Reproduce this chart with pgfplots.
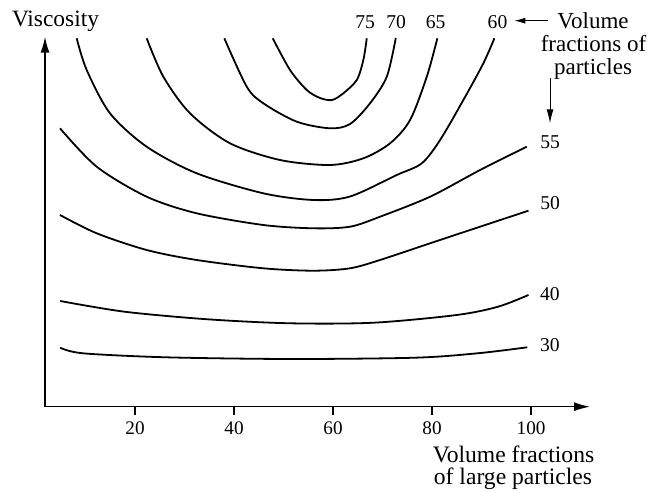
\documentclass[border=0pt]{standalone}
\usepackage{fontspec}
\setmainfont{Liberation Serif}
\usepackage{pgfplots}
\pgfplotsset{compat=1.18}
\usetikzlibrary{arrows.meta}
\begin{document}
\begin{tikzpicture}
\useasboundingbox (-22.5pt,-42.65pt) rectangle (303pt,203.35pt);
\begin{axis}[
 at={(0,0)}, anchor=south west,
 scale only axis, width=272.5pt, height=185pt,
 xmin=1.82, xmax=111.9, ymin=0, ymax=370,
 axis lines=left,
 axis line style={line width=0.75pt, -{Latex[length=8pt,width=4.5pt]}},
 xtick={20,40,60,80,100}, ytick=\empty,
 tick align=outside, major tick length=4pt,
 xtick style={line width=0.6pt, black},
 tick label style={font=\fontsize{9.6}{11}\selectfont},
 /pgf/number format/assume math mode=true,
 clip=false,
]
% 75
\addplot[smooth, line width=0.9pt] coordinates {(47.82,368.4) (51.31,336.7) (54.69,316.7) (57.37,308.7) (59.80,306.7) (62.08,313.4) (64.79,326.7) (66.12,346.7) (66.81,368.4)};
% 70
\addplot[smooth, line width=0.9pt] coordinates {(38.04,368.4) (42.57,320) (45.92,303.4) (52.67,285) (59.39,278.4) (63.43,282.7) (67.47,303.4) (70.85,330) (72.67,368.7)};
% 65
\addplot[smooth, line width=0.9pt] coordinates {(22.36,368.4) (25.72,330) (31.11,293.4) (39.19,263.4) (49.29,246.7) (59.39,241.7) (66.12,248.4) (71.52,263.4) (75.56,286.7) (78.93,330) (81.07,368.4)};
% 60
\addplot[smooth, line width=0.9pt] coordinates {(8.22,368.4) (10.24,336.7) (14.95,293.4) (22.36,260) (32.46,233.4) (45.92,213.4) (56.02,206.7) (63.43,210.2) (72.87,231.7) (77.92,243.4) (81.62,266.7) (86.32,306.7) (90.36,343.4) (92.59,368.4)};
% 55
\addplot[smooth, line width=0.9pt] coordinates {(4.85,278.4) (12.26,240) (22.36,210) (32.46,193.4) (45.92,181.7) (56.02,178.4) (63.43,180) (69.49,190) (79.6,210) (89.7,236.7) (99.13,260)};
% 50
\addplot[smooth, line width=0.9pt] coordinates {(4.85,191.7) (12.26,173.4) (22.36,156.7) (32.46,146.7) (45.92,138.4) (56.02,136) (63.43,138.4) (69.49,146.7) (79.6,163.4) (89.7,180) (99.47,196)};
% 40
\addplot[smooth, line width=0.9pt] coordinates {(4.89,105.7) (17.88,95) (34.67,87.4) (51.43,83.4) (68.2,84) (84.97,91.7) (93.33,100) (99.47,111.7)};
% 30
\addplot[smooth, line width=0.9pt] coordinates {(4.89,59) (9.49,53.4) (26.26,49.4) (51.43,47.7) (76.57,49) (89.17,53.4) (99.23,59.4)};
\end{axis}
\begin{scope}[x=0.5pt,y=-0.5pt,shift={(-22.5pt,203.35pt)}]
\tikzset{every node/.style={inner sep=0pt}}
\node[anchor=base, font=\fontsize{11.7}{13}\selectfont] at (55.5,26.7) {Viscosity};
\node[anchor=base west, font=\fontsize{9.8}{11}\selectfont] at (355,28.3) {75};
\node[anchor=base west, font=\fontsize{9.8}{11}\selectfont] at (386,28.3) {70};
\node[anchor=base west, font=\fontsize{9.8}{11}\selectfont] at (425.5,28.3) {65};
\node[anchor=base west, font=\fontsize{9.8}{11}\selectfont] at (487.3,28.3) {60};
\node[anchor=base west, font=\fontsize{9.8}{11}\selectfont] at (540,148.3) {55};
\node[anchor=base west, font=\fontsize{9.8}{11}\selectfont] at (540,210) {50};
\node[anchor=base west, font=\fontsize{9.8}{11}\selectfont] at (539.6,300) {40};
\node[anchor=base west, font=\fontsize{9.8}{11}\selectfont] at (539.6,351.7) {30};
\node[anchor=base, font=\fontsize{11.5}{13}\selectfont] at (593,28.3) {Volume};
\node[anchor=base, font=\fontsize{11.5}{13}\selectfont] at (593.5,51.7) {fractions of};
\node[anchor=base, font=\fontsize{11.5}{13}\selectfont] at (593,75) {particles};
\node[anchor=base, font=\fontsize{11.8}{13}\selectfont] at (513.5,462.3) {Volume fractions};
\node[anchor=base, font=\fontsize{11.8}{13}\selectfont] at (513,484.5) {of large particles};
\draw[-{Latex[length=5.5pt,width=3pt]}, line width=0.5pt] (548.3,20.7) -- (514.3,20.7);
\draw[-{Latex[length=7pt,width=3.5pt]}, line width=0.5pt] (550,78) -- (550,123.3);
\end{scope}
\end{tikzpicture}
\end{document}
